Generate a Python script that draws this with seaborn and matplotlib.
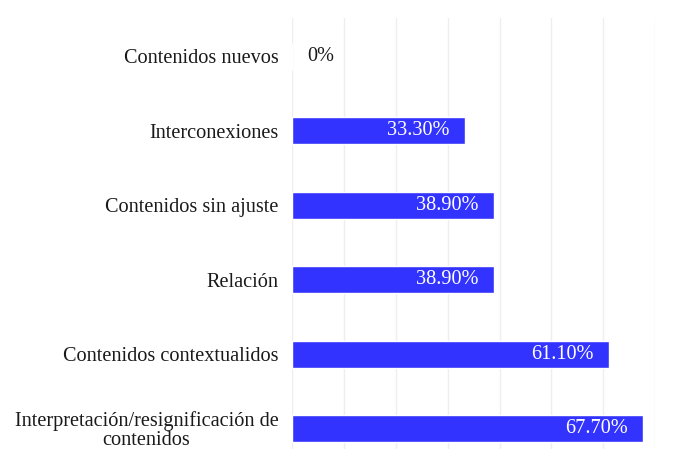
import matplotlib
matplotlib.use("Agg")
import matplotlib.pyplot as plt
import seaborn as sns
import pandas as pd

categories = [
    "Contenidos nuevos",
    "Interconexiones",
    "Contenidos sin ajuste",
    "Relación",
    "Contenidos contextualidos",
    "Interpretación/resignificación de\ncontenidos",
]
values = [0.0, 33.3, 38.9, 38.9, 61.1, 67.7]
value_labels = ["0%", "33.30%", "38.90%", "38.90%", "61.10%", "67.70%"]
x_ticks = [0, 10, 20, 30, 40, 50, 60, 70]

sns.set_theme(style="white")
plt.rcParams['font.family'] = ['Liberation Serif', 'DejaVu Serif']

df = pd.DataFrame({"cat": categories, "val": values})

fig = plt.figure(figsize=(6.98, 4.49), dpi=100)
ax = fig.add_axes([0.4188, 0.0, 0.9384 - 0.4188, 0.96])

sns.barplot(data=df, x="val", y="cat", color="#3333FF", saturation=1,
            width=0.363, orient="h", ax=ax, zorder=3)

ax.set_xlim(0, 70)
ax.set_ylim(5.275, -0.517)
ax.set_xticks(x_ticks)
ax.set_xticklabels([])
ax.grid(axis="x", color="#EEEEEE", linewidth=1, zorder=0)
ax.grid(axis="y", visible=False)
ax.set_axisbelow(True)
for s in ax.spines.values():
    s.set_visible(False)
ax.set_xlabel("")
ax.set_ylabel("")
ax.tick_params(axis="both", length=0)
ax.tick_params(axis="y", pad=10, labelsize=14.6, labelcolor="#1a1a1a")
for lbl in ax.get_yticklabels():
    lbl.set_multialignment("center")
    lbl.set_linespacing(0.98)

for i, (v, t) in enumerate(zip(values, value_labels)):
    if v <= 0:
        ax.text(v + 2.8, i, t, ha="left", va="center", fontsize=14.6,
                color="#1a1a1a", zorder=4)
    else:
        ax.text(v - 2.9, i, t, ha="right", va="center", fontsize=14.6,
                color="white", zorder=4)

fig.savefig("out.png", dpi=100)
